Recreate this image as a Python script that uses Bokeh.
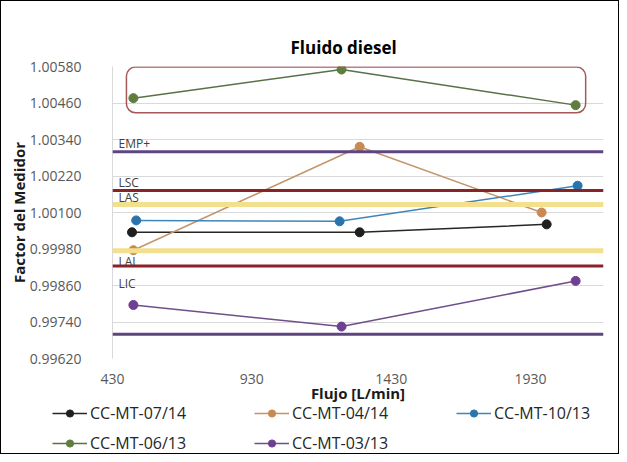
from bokeh.plotting import figure
from bokeh.layouts import column
from bokeh.models import (Range1d, FixedTicker, PrintfTickFormatter, Legend, LegendItem,
                          Span, BoxAnnotation, Label)
from bokeh.embed import file_html
from bokeh.resources import INLINE

# ---- data ----
title = "Fluido diesel"
x_label = "Flujo [L/min]"
y_label = "Factor del Medidor"

series_names = ["CC-MT-07/14", "CC-MT-04/14", "CC-MT-10/13", "CC-MT-06/13", "CC-MT-03/13"]
x_0714 = [500, 1317, 1988]
y_0714 = [1.00035, 1.00035, 1.00061]
x_0414 = [505, 1317, 1970]
y_0414 = [0.99976, 1.00316, 1.00100]
x_1013 = [515, 1245, 2099]
y_1013 = [1.00074, 1.00071, 1.00188]
x_0613 = [505, 1252, 2092]
y_0613 = [1.00476, 1.00570, 1.00453]
x_0313 = [505, 1252, 2092]
y_0313 = [0.99796, 0.99725, 0.99875]

limit_names = ["EMP+", "LSC", "LAS", "LAI", "LIC", "EMP-"]
limit_values = [1.00300, 1.00172, 1.00126, 0.99974, 0.99924, 0.99700]

x_ticks = [430, 930, 1430, 1930]
y_ticks = [0.99620, 0.99740, 0.99860, 0.99980, 1.00100, 1.00220, 1.00340, 1.00460, 1.00580]

highlight_box = dict(left=480, right=2128, bottom=1.00428, top=1.00578)

# ---- styles ----
FONT = "Open Sans"
series_colors = ["#1f1f1f", "#c98a52", "#2a74ad", "#5f7d3e", "#6e3f92"]
line_colors = ["#262626", "#c4946a", "#3f86b8", "#5a7046", "#6e4f8a"]
limit_colors = {"EMP+": "#5e4580", "EMP-": "#5e4580", "LSC": "#8a2328", "LIC": "#8a2328",
                "LAS": "#f2e08e", "LAI": "#f2e08e"}
limit_widths = {"EMP+": 3, "EMP-": 3, "LSC": 3, "LIC": 3, "LAS": 5, "LAI": 5}

W = 617
H_MAIN = 404
H_LEG = 48

p = figure(width=W, height=H_MAIN, output_backend="svg", toolbar_location=None,
           x_range=Range1d(430, 2192), y_range=Range1d(0.99620, 1.00580),
           min_border_left=111, min_border_right=15, min_border_top=65, min_border_bottom=44,
           title=title)
p.outline_line_color = None
p.background_fill_color = "white"
p.border_fill_color = "white"

p.title.align = "left"
p.title.offset = 178
p.title.text_font = FONT
p.title.text_font_size = "17px"
p.title.text_font_style = "bold"
p.title.text_color = "#000000"
p.title.standoff = 15

p.xgrid.visible = False
p.ygrid.grid_line_color = "#d9d9d9"
p.ygrid.grid_line_width = 1

p.xaxis.ticker = FixedTicker(ticks=x_ticks)
p.yaxis.ticker = FixedTicker(ticks=y_ticks)
p.yaxis.formatter = PrintfTickFormatter(format="%.5f")
for ax in (p.xaxis[0], p.yaxis[0]):
    ax.major_tick_line_color = None
    ax.minor_tick_line_color = None
    ax.major_label_text_font = FONT
    ax.major_label_text_font_size = "14px"
    ax.major_label_text_color = "#595959"
    ax.axis_label_text_font = FONT
    ax.axis_label_text_font_size = "15px"
    ax.axis_label_text_font_style = "bold"
    ax.axis_label_text_color = "#1a1a1a"
p.xaxis.axis_line_color = None
p.yaxis.axis_line_color = "#d9d9d9"
p.xaxis.major_label_standoff = 9
p.yaxis.major_label_standoff = 25
p.xaxis.axis_label = x_label
p.yaxis.axis_label = y_label
p.xaxis.axis_label_standoff = -4
p.yaxis.axis_label_standoff = -2

# limit lines
for name, val in zip(limit_names, limit_values):
    p.add_layout(Span(location=val, dimension="width", line_color=limit_colors[name],
                      line_width=limit_widths[name]))

# limit labels
label_specs = {"EMP+": ("bottom", 0), "LSC": ("bottom", 0), "LAS": ("bottom", -1),
               "LAI": ("top", -2), "LIC": ("top", -9)}
for name, val in zip(limit_names, limit_values):
    if name in label_specs:
        base, off = label_specs[name]
        p.add_layout(Label(x=430, y=val, x_offset=6, y_offset=off, text=name,
                           text_baseline=base, text_font=FONT, text_font_size="12px",
                           text_color="#404040"))

# highlight box
p.add_layout(BoxAnnotation(fill_alpha=0, line_color="#a5575a", line_alpha=1.0, line_width=1.5,
                           border_radius=9, **highlight_box))

xs = [x_0714, x_0414, x_1013, x_0613, x_0313]
ys = [y_0714, y_0414, y_1013, y_0613, y_0313]
for x, y, c, lc in zip(xs, ys, series_colors, line_colors):
    p.line(x, y, line_color=lc, line_width=1.5)
    p.scatter(x, y, size=9, fill_color=c, line_color=c)

# ---- legend strip (same series drawn off-view, only its legend shows) ----
q = figure(width=W, height=H_LEG, output_backend="svg", toolbar_location=None,
           x_range=Range1d(0, 1), y_range=Range1d(0, 1),
           x_axis_type=None, y_axis_type=None,
           min_border_left=0, min_border_right=0, min_border_top=0, min_border_bottom=0)
if "frame_align" in q.properties():
    q.frame_align = False
q.grid.visible = False
q.outline_line_color = None
q.background_fill_color = "white"
q.border_fill_color = "white"
items = []
for name, x, y, c, lc in zip(series_names, xs, ys, series_colors, line_colors):
    r1 = q.line(x, y, line_color=lc, line_width=1.5)
    r2 = q.scatter(x, y, size=8, fill_color=c, line_color=c)
    items.append(LegendItem(label=name, renderers=[r1, r2]))

legend = Legend(items=items, orientation="horizontal", ncols=3, location=(51, -1),
                label_text_font=FONT, label_text_font_size="16px",
                label_text_color="#262626", glyph_width=35, glyph_height=18,
                label_height=18, label_width=156, spacing=8, padding=0, margin=0,
                label_standoff=3, border_line_color=None, background_fill_alpha=0)
q.add_layout(legend, "center")

layout = column(p, q, spacing=0, styles={"border": "1px solid #000000"})

open("out.html", "w").write(file_html(layout, INLINE))
